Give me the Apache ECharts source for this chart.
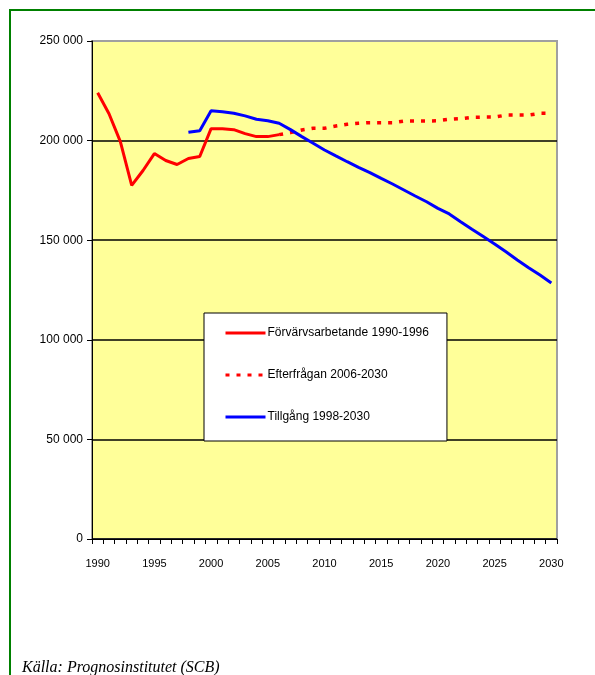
<!DOCTYPE html>
<html>
<head>
<meta charset="utf-8">
<script src="https://cdn.jsdelivr.net/npm/echarts@6/dist/echarts.min.js"></script>
<style>
html,body{margin:0;padding:0;background:#fff;}
#c{width:595px;height:675px;}
</style>
</head>
<body>
<div id="c"></div>
<script>
var years = ['1990','1991','1992','1993','1994','1995','1996','1997','1998','1999',
             '2000','2001','2002','2003','2004','2005','2006','2007','2008','2009',
             '2010','2011','2012','2013','2014','2015','2016','2017','2018','2019',
             '2020','2021','2022','2023','2024','2025','2026','2027','2028','2029','2030'];

var forvarvsarbetande = [224000,213500,199500,177500,185000,193500,190000,188000,191000,192000,
                         206000,206000,205500,203500,202000,202000,203000,
                         null,null,null,null,null,null,null,null,null,null,null,null,null,
                         null,null,null,null,null,null,null,null,null,null,null];

var efterfragan = [null,null,null,null,null,null,null,null,null,null,
                   null,null,null,null,null,null,
                   203000,204000,205300,206200,206200,207300,208200,208700,209000,209000,
                   209000,209800,209800,209800,210000,210700,211000,211700,211800,211800,
                   212800,212800,212800,213700,213700];

var tillgang = [null,null,null,null,null,null,null,null,
                204200,205000,215000,214500,213700,212400,210700,210000,208700,205500,
                202000,198700,195300,192300,189400,186600,183900,181000,178200,175200,
                172200,169300,166000,163200,159300,155500,151800,148100,144200,140100,
                136200,132500,128500];

var yTickLabels = ['0','50 000','100 000','150 000','200 000','250 000'];
var seriesNames = ['Förvärvsarbetande 1990-1996','Efterfrågan 2006-2030','Tillgång 1998-2030'];
var sourceText = 'Källa: Prognosinstitutet (SCB)';

var sans = '"Liberation Sans", Arial, sans-serif';

var chart = echarts.init(document.getElementById('c'));
chart.setOption({
  animation: false,
  backgroundColor: '#ffffff',
  textStyle: {fontFamily: sans, color: '#000'},
  grid: {
    left: 92, right: 38, top: 41, bottom: 136,
    show: true, backgroundColor: '#FFFF99', borderColor: '#a0a0a0', borderWidth: 2
  },
  xAxis: {
    type: 'category',
    data: years,
    boundaryGap: true,
    axisLine: {lineStyle: {color: '#000', width: 1}},
    axisTick: {show: true, interval: 0, length: 5, lineStyle: {color: '#000'}},
    axisLabel: {interval: 4, margin: 19, fontSize: 11, color: '#000', fontFamily: sans},
    splitLine: {show: false}
  },
  yAxis: {
    type: 'value',
    min: 0, max: 250000, interval: 50000,
    axisLine: {show: true, lineStyle: {color: '#000', width: 1}},
    axisTick: {show: true, length: 5, lineStyle: {color: '#000'}},
    axisLabel: {
      margin: 9, fontSize: 12, color: '#000', fontFamily: sans,
      formatter: function (v) { return yTickLabels[Math.round(v / 50000)]; }
    },
    splitLine: {show: true, lineStyle: {color: ['#000','#000','#000','#000','#000','#a0a0a0'], width: 1.5}}
  },
  legend: {
    show: true,
    orient: 'vertical',
    left: 204, top: 313,
    data: seriesNames,
    selectedMode: false,
    backgroundColor: '#ffffff',
    borderColor: '#000',
    borderWidth: 1,
    padding: [14, 18, 18, 20],
    itemWidth: 40, itemHeight: 14, itemGap: 30,
    itemStyle: {opacity: 0},
    lineStyle: {width: 3},
    textStyle: {fontFamily: sans, fontSize: 12, color: '#000', padding: [0,0,0,-3]}
  },
  series: [
    {
      name: seriesNames[0], type: 'line', data: forvarvsarbetande,
      symbol: 'none', connectNulls: false,
      lineStyle: {color: '#ff0000', width: 3}, itemStyle: {color: '#ff0000'}
    },
    {
      name: seriesNames[1], type: 'line', data: efterfragan,
      symbol: 'none',
      lineStyle: {color: '#ff0000', width: 3.5, type: [4, 7]}, itemStyle: {color: '#ff0000'}
    },
    {
      name: seriesNames[2], type: 'line', data: tillgang,
      symbol: 'none',
      lineStyle: {color: '#0000ff', width: 3}, itemStyle: {color: '#0000ff'}
    }
  ],
  graphic: [
    {
      type: 'polyline', silent: true,
      shape: {points: [[10, 675], [10, 10], [595, 10]]},
      style: {stroke: '#008000', lineWidth: 2, fill: null}
    },
    {
      type: 'text', left: 22, top: 660, silent: true,
      style: {text: sourceText, font: 'italic 16px "Liberation Serif", "Times New Roman", serif', fill: '#000'}
    }
  ]
});
</script>
</body>
</html>
